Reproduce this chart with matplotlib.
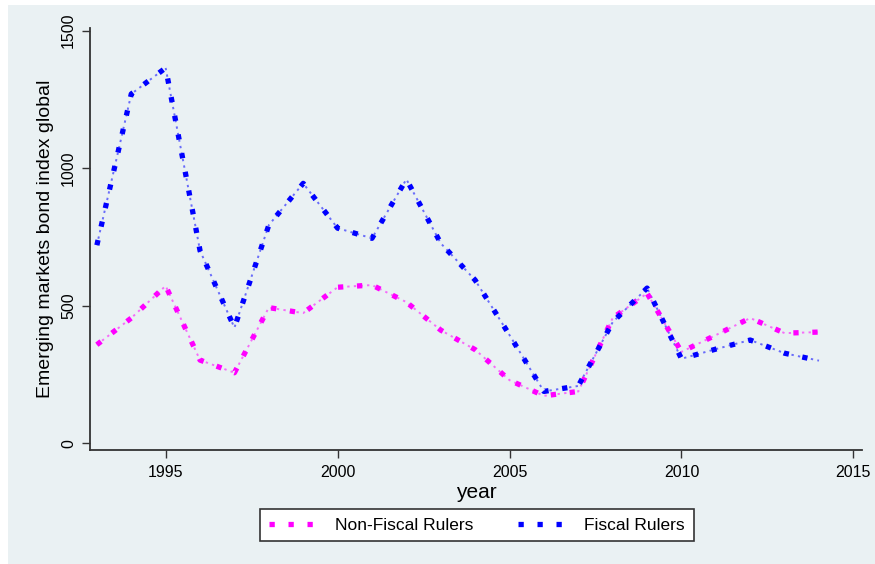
import matplotlib.pyplot as plt
from matplotlib.patches import Rectangle
from matplotlib.lines import Line2D

plt.rcParams['font.family'] = ['Liberation Sans', 'DejaVu Sans']

# Data
years = list(range(1993, 2015))
non_fiscal = [358, 455, 572, 302, 256, 493, 473, 567, 575, 513, 411, 340,
              229, 172, 188, 455, 545, 332, 393, 455, 400, 404]
fiscal = [720, 1270, 1365, 700, 420, 793, 945, 782, 745, 960, 727, 593,
          393, 188, 208, 440, 564, 307, 342, 375, 327, 300]
series_labels = ['Non-Fiscal Rulers', 'Fiscal Rulers']
series_colors = ['#FF00FF', '#0000FF']
y_ticks = [0, 500, 1000, 1500]
x_ticks = [1995, 2000, 2005, 2010, 2015]

bg = '#EAF1F3'
fig = plt.figure(figsize=(8.75, 5.64), dpi=100)
fig.patch.set_facecolor('white')
# light panel behind everything (Stata style)
fig.patches.append(Rectangle((8 / 875, 0), 1, 1 - 5 / 564,
                             transform=fig.transFigure, facecolor=bg,
                             edgecolor='none', zorder=-10))

ax = fig.add_axes([90 / 875, (564 - 450) / 564, (862 - 90) / 875, (450 - 28) / 564])
ax.set_facecolor(bg)


def draw_series(x, y, color):
    # thick square dots plus thin light ticks between them
    ax.plot(x, y, color=color, lw=3.8, dashes=(1.0, 2.6),
            dash_capstyle='butt', zorder=3)
    ax.plot(x, y, color=color, lw=1.4, alpha=0.55,
            dashes=(1.2, 2.2), zorder=2)


for vals, col in zip([non_fiscal, fiscal], series_colors):
    draw_series(years, vals, col)

ax.set_xlim(1992.8, 2015.25)
ax.set_ylim(-25, 1510)
ax.set_xticks(x_ticks)
ax.set_yticks(y_ticks)
ax.tick_params(axis='both', length=6, width=1, color='#333333', labelsize=11.5)
ax.tick_params(axis='x', pad=5)
ax.tick_params(axis='y', pad=4)
for lab in ax.get_yticklabels():
    lab.set_rotation(90)
    lab.set_va('center')
ax.spines['top'].set_visible(False)
ax.spines['right'].set_visible(False)
for s in ['left', 'bottom']:
    ax.spines[s].set_color('#333333')
    ax.spines[s].set_linewidth(1.3)

ax.set_ylabel('Emerging markets bond index global', fontsize=14, labelpad=5)
ax.set_xlabel('year', fontsize=15, labelpad=2)

handles = [Line2D([0], [0], color=c, lw=3.8, dashes=(1.0, 2.6), dash_capstyle='butt')
           for c in series_colors]
leg = fig.legend(handles, series_labels, loc='center', bbox_to_anchor=(477 / 875, 1 - 525 / 564),
                 ncol=2, frameon=True, fancybox=False, fontsize=12.5, handlelength=3.0,
                 columnspacing=2.6, edgecolor='#333333', borderpad=0.5, framealpha=1)
leg.get_frame().set_linewidth(1.2)

fig.savefig('out.png', dpi=100, facecolor=fig.get_facecolor())
